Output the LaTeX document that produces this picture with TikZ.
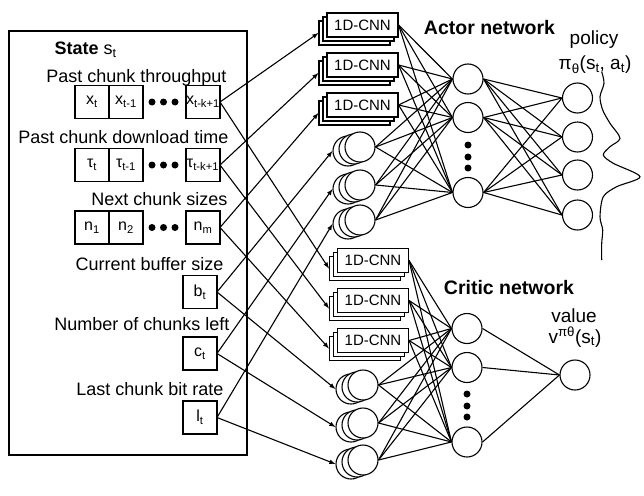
\documentclass[tikz,border=0pt]{standalone}
\usepackage{fontspec}
\setmainfont{Liberation Sans}
\usetikzlibrary{positioning}
\usetikzlibrary{arrows}
\usetikzlibrary{shadows}
\tikzset {
  % entries of the state vector
  cell/.style = {draw, minimum width=34pt, minimum height=33pt, inner sep=0pt, outer sep=0pt,
    font=\fontsize{16}{18}\selectfont},
  % feature names above the entries
  feat/.style = {anchor=base east, inner sep=0pt, font=\fontsize{18}{20}\selectfont},
  % stacked 1D-CNN blocks
  cnn/.style = {draw, fill=white, minimum width=71pt, minimum height=24pt, inner sep=0pt,
    general shadow={shadow xshift=-8pt, shadow yshift=-8pt, draw, fill=white},
    general shadow={shadow xshift=-4pt, shadow yshift=-4pt, draw, fill=white},
    font=\fontsize{15}{17}\selectfont},
  % stacked scalar inputs
  scalar/.style = {draw, circle, fill=white, minimum size=30pt, inner sep=0pt,
    general shadow={shadow xshift=-12pt, shadow yshift=-4pt, draw, fill=white},
    general shadow={shadow xshift=-6pt, shadow yshift=-2pt, draw, fill=white}},
  % neurons
  unit/.style = {draw, circle, minimum size=30pt, inner sep=0pt},
  nettitle/.style = {anchor=base, inner sep=0pt, font=\fontsize{19.5}{22}\selectfont\bfseries},
  outtext/.style = {anchor=base, inner sep=0pt, font=\fontsize{19}{21}\selectfont},
  link/.style = {-latex},
}

\begin{document}
\begin{tikzpicture}[x=1pt, y=-1pt, line width=1.1pt]
        \useasboundingbox (0,0) rectangle (644,495);

        % state
        \node[draw, minimum width=238pt, minimum height=424pt, inner sep=0pt] (state) at (128,243) {};
        \node[anchor=base west, inner sep=0pt, font=\fontsize{18}{20}\selectfont] (statelbl) at (54,55) {\textbf{State} s\textsubscript{t}};

        \node[feat] (f1) at (227,82) {Past chunk throughput};
        \node[cell] (x1) at (92,102) {x\textsubscript{t}};
        \node[cell, right=0pt of x1] (x2) {x\textsubscript{t-1}};
        \node[cell] (x3) at (203,102) {x\textsubscript{t-k+1}};

        \node[feat] (f2) at (229,143.5) {Past chunk download time};
        \node[cell] (tau1) at (92,165) {τ\textsubscript{t}};
        \node[cell, right=0pt of tau1] (tau2) {τ\textsubscript{t-1}};
        \node[cell] (tau3) at (203,165) {τ\textsubscript{t-k+1}};

        \node[feat] (f3) at (228,205) {Next chunk sizes};
        \node[cell] (n1) at (92,227.5) {n\textsubscript{1}};
        \node[cell, right=0pt of n1] (n2) {n\textsubscript{2}};
        \node[cell] (n3) at (203,227.5) {n\textsubscript{m}};

        \foreach \y in {102,165,227.5}
          \foreach \x in {152,163.5,175}
            \fill (\x,\y) circle (3.5pt);

        \node[feat] (f4) at (224,270) {Current buffer size};
        \node[cell] (b) at (200,292) {b\textsubscript{t}};
        \node[feat] (f5) at (230,330) {Number of chunks left};
        \node[cell] (c) at (200,353.5) {c\textsubscript{t}};
        \node[feat] (f6) at (224,395) {Last chunk bit rate};
        \node[cell] (l) at (200,417.5) {l\textsubscript{t}};

        % actor network
        \node[nettitle] (actor) at (489.5,35) {Actor network};
        \node[cnn] (acnn1) at (362.5,25) {1D-CNN};
        \node[cnn] (acnn2) at (362.5,65) {1D-CNN};
        \node[cnn] (acnn3) at (362.5,105) {1D-CNN};
        \node[scalar] (ascal1) at (360,147) {};
        \node[scalar] (ascal2) at (360,185) {};
        \node[scalar] (ascal3) at (360,220) {};
        \node[unit] (ahid1) at (468,79) {};
        \node[unit] (ahid2) at (468,117.5) {};
        \node[unit] (ahid3) at (468,192.5) {};
        \node[unit] (aout1) at (577.5,98) {};
        \node[unit] (aout2) at (577.5,137) {};
        \node[unit] (aout3) at (577.5,175) {};
        \node[unit] (aout4) at (577.5,215) {};
        \node[outtext] (policy) at (594,45) {policy};
        \node[outtext] (pi) at (595,70) {π\textsubscript{θ}(s\textsubscript{t}, a\textsubscript{t})};
        \foreach \y in {145,157,168}
          \fill (468,\y) circle (3.5pt);

        % critic network
        \node[nettitle] (critic) at (509,294) {Critic network};
        \node[cnn] (ccnn1) at (373,260.5) {1D-CNN};
        \node[cnn] (ccnn2) at (373,300.5) {1D-CNN};
        \node[cnn] (ccnn3) at (373,340.5) {1D-CNN};
        \node[scalar] (cscal1) at (363,385) {};
        \node[scalar] (cscal2) at (363,423) {};
        \node[scalar] (cscal3) at (363,460) {};
        \node[unit] (chid1) at (467,328.5) {};
        \node[unit] (chid2) at (467,367.5) {};
        \node[unit] (chid3) at (467,442) {};
        \node[unit] (cout) at (575,375) {};
        \node[outtext] (value) at (574,322) {value};
        \node[outtext] (v) at (575,343) {v\textsuperscript{πθ}(s\textsubscript{t})};
        \foreach \y in {394,406,417}
          \fill (467,\y) circle (3.5pt);

        % state to inputs
        \foreach \s/\i in {x3/1, tau3/2, n3/3} {
          \draw[link] (\s.east) -- ([shift={(-8pt,-8pt)}]acnn\i.west);
          \draw[link] (\s.east) -- ([shift={(-8pt,-8pt)}]ccnn\i.west);
        }
        \foreach \s/\i in {b/1, c/2, l/3} {
          \draw[link] (\s.east) -- ([shift={(-12pt,-4pt)}]ascal\i.west);
          \draw[link] (\s.east) -- ([shift={(-12pt,-4pt)}]cscal\i.west);
        }

        % dense layers
        \foreach \a in {acnn1,acnn2,acnn3,ascal1,ascal2,ascal3}
          \foreach \h in {ahid1,ahid2,ahid3}
            \draw (\a.east) -- (\h.west);
        \foreach \h in {ahid1,ahid2,ahid3}
          \foreach \o in {aout1,aout2,aout3,aout4}
            \draw (\h.east) -- (\o.west);
        \foreach \a in {ccnn1,ccnn2,ccnn3,cscal1,cscal2,cscal3}
          \foreach \h in {chid1,chid2,chid3}
            \draw (\a.east) -- (\h.west);
        \foreach \h in {chid1,chid2,chid3}
          \draw (\h.east) -- (cout.west);

        % policy distribution
        \draw plot[smooth] coordinates {(601.7,71.7) (604,83.3) (600,96.7) (602.7,110) (610,123.3)
          (620,138.3) (610,146.7) (603.3,155) (613.3,163.3) (640,176.7) (616.7,186.7) (603.3,196.7)
          (600,216.7) (602.7,230) (601.7,243.3) (601.7,260)};
      \end{tikzpicture}
\end{document}
